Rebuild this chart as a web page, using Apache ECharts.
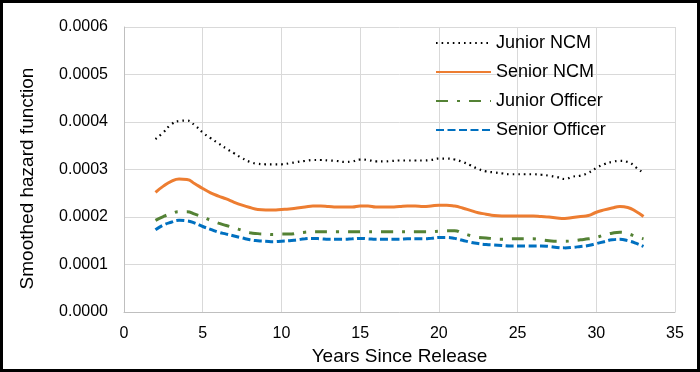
<!DOCTYPE html>
<html>
<head>
<meta charset="utf-8">
<script src="https://cdn.jsdelivr.net/npm/echarts@6/dist/echarts.min.js"></script>
<style>
html,body{margin:0;padding:0;background:#fff;}
#wrap{position:relative;width:700px;height:372px;}
#chart{width:700px;height:372px;}
#frame{position:absolute;left:0;top:0;width:700px;height:372px;box-sizing:border-box;border:3px solid #000;pointer-events:none;}
</style>
</head>
<body>
<div id="wrap"><div id="chart"></div><div id="frame"></div></div>
<script>
var years = [2,2.5,3,3.5,4,4.5,5,5.5,6,6.5,7,7.5,8,8.5,9,9.5,10,10.5,11,11.5,12,12.5,13,13.5,14,14.5,15,15.5,16,16.5,17,17.5,18,18.5,19,19.5,20,20.5,21,21.5,22,22.5,23,23.5,24,24.5,25,25.5,26,26.5,27,27.5,28,28.5,29,29.5,30,30.5,31,31.5,32,32.5,33];

var juniorNCM = [0.000364,0.000378,0.000395,0.000402,0.000403,0.000393,0.000378,0.000366,0.000355,0.000344,0.000334,0.000324,0.000316,0.000312,0.000311,0.000311,0.000311,0.000313,0.000316,0.000318,0.000320,0.000320,0.000319,0.000318,0.000316,0.000317,0.000321,0.000320,0.000317,0.000317,0.000318,0.000319,0.000319,0.000319,0.000319,0.000320,0.000323,0.000323,0.000321,0.000316,0.000309,0.000301,0.000296,0.000294,0.000292,0.000290,0.000290,0.000290,0.000290,0.000289,0.000287,0.000284,0.000280,0.000285,0.000287,0.000293,0.000303,0.000311,0.000316,0.000318,0.000316,0.000305,0.000292];

var seniorNCM = [0.000252,0.000265,0.000275,0.000280,0.000279,0.000270,0.000260,0.000251,0.000244,0.000238,0.000231,0.000225,0.000220,0.000216,0.000215,0.000215,0.000216,0.000217,0.000219,0.000221,0.000223,0.000223,0.000222,0.000221,0.000221,0.000221,0.000223,0.000223,0.000221,0.000221,0.000221,0.000222,0.000223,0.000223,0.000222,0.000223,0.000225,0.000225,0.000223,0.000219,0.000214,0.000209,0.000206,0.000203,0.000202,0.000202,0.000202,0.000202,0.000202,0.000201,0.000200,0.000198,0.000197,0.000199,0.000201,0.000203,0.000210,0.000215,0.000219,0.000222,0.000220,0.000212,0.000201];

var juniorOfficer = [0.000193,0.000201,0.000207,0.000211,0.000211,0.000206,0.000200,0.000193,0.000187,0.000182,0.000177,0.000172,0.000167,0.000165,0.000164,0.000163,0.000164,0.000164,0.000166,0.000168,0.000169,0.000169,0.000169,0.000169,0.000169,0.000169,0.000169,0.000169,0.000169,0.000169,0.000169,0.000169,0.000169,0.000169,0.000169,0.000169,0.000170,0.000171,0.000171,0.000166,0.000161,0.000157,0.000156,0.000154,0.000153,0.000154,0.000154,0.000154,0.000154,0.000152,0.000150,0.000149,0.000149,0.000150,0.000152,0.000154,0.000157,0.000162,0.000166,0.000168,0.000165,0.000159,0.000154];

var seniorOfficer = [0.000173,0.000183,0.000189,0.000193,0.000192,0.000187,0.000180,0.000174,0.000168,0.000164,0.000160,0.000156,0.000152,0.000150,0.000149,0.000148,0.000149,0.000150,0.000152,0.000154,0.000155,0.000154,0.000153,0.000153,0.000153,0.000154,0.000155,0.000154,0.000153,0.000153,0.000153,0.000153,0.000154,0.000154,0.000154,0.000155,0.000157,0.000157,0.000155,0.000151,0.000147,0.000144,0.000142,0.000141,0.000140,0.000139,0.000139,0.000139,0.000139,0.000139,0.000138,0.000136,0.000135,0.000136,0.000138,0.000140,0.000144,0.000148,0.000152,0.000153,0.000150,0.000145,0.000138];

var seriesNames = ['Junior NCM','Senior NCM','Junior Officer','Senior Officer'];

function pairs(vals){ return years.map(function(x,i){ return [x, vals[i]]; }); }

var FONT = '"Liberation Sans", Arial, sans-serif';
var chart = echarts.init(document.getElementById('chart'), null, {renderer:'canvas'});
chart.setOption({
  animation:false,
  backgroundColor:'#fff',
  textStyle:{fontFamily:FONT, color:'#000'},
  grid:{left:124, right:25, top:27, bottom:60, containLabel:false},
  legend:{
    orient:'vertical', left:435, top:33, padding:0,
    itemWidth:55, itemHeight:14, itemGap:9,
    itemStyle:{opacity:0},
    textStyle:{fontFamily:FONT, fontSize:18, color:'#000', lineHeight:20},
    data:seriesNames
  },
  xAxis:{
    type:'value', min:0, max:35, interval:5,
    name:'Years Since Release', nameLocation:'middle', nameGap:35,
    nameTextStyle:{fontFamily:FONT, fontSize:19, color:'#000'},
    axisLine:{show:true, lineStyle:{color:'#bfbfbf', width:1}},
    axisTick:{show:false},
    axisLabel:{fontFamily:FONT, fontSize:16, color:'#000', margin:14},
    splitLine:{show:true, lineStyle:{color:'#d9d9d9', width:1}}
  },
  yAxis:{
    type:'value', min:0, max:0.0006, interval:0.0001,
    name:'Smoothed hazard function', nameLocation:'middle', nameGap:87, nameRotate:90,
    nameTextStyle:{fontFamily:FONT, fontSize:19, color:'#000', padding:[0,18,0,0]},
    axisLine:{show:true, lineStyle:{color:'#bfbfbf', width:1}},
    axisTick:{show:false},
    axisLabel:{fontFamily:FONT, fontSize:16, color:'#000', margin:16,
      formatter:function(v){ return v.toFixed(4); }},
    splitLine:{show:true, lineStyle:{color:'#d9d9d9', width:1}}
  },
  series:[
    {name:seriesNames[0], type:'line', data:pairs(juniorNCM), smooth:true, symbol:'none',
     lineStyle:{color:'#000000', width:2.2, type:[1.6,4], cap:'butt'}, itemStyle:{color:'#000000'}},
    {name:seriesNames[1], type:'line', data:pairs(seniorNCM), smooth:true, symbol:'none',
     lineStyle:{color:'#ED7D31', width:3}, itemStyle:{color:'#ED7D31'}},
    {name:seriesNames[2], type:'line', data:pairs(juniorOfficer), smooth:true, symbol:'none',
     lineStyle:{color:'#548235', width:3, type:[12,9,3,9]}, itemStyle:{color:'#548235'}},
    {name:seriesNames[3], type:'line', data:pairs(seniorOfficer), smooth:true, symbol:'none',
     lineStyle:{color:'#0070C0', width:3, type:[8,3.5]}, itemStyle:{color:'#0070C0'}}
  ]
});
</script>
</body>
</html>
